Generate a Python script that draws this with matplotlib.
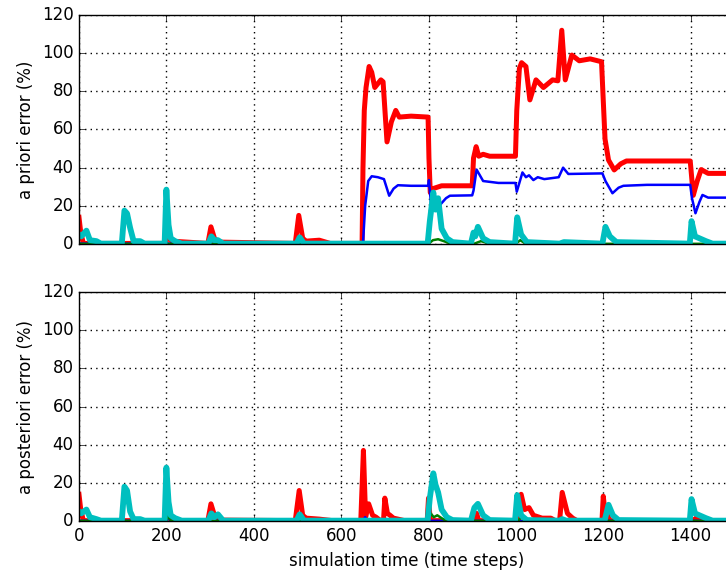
import matplotlib
matplotlib.use('Agg')
import matplotlib.pyplot as plt

plt.style.use('classic')
plt.rcParams['font.family'] = ['DejaVu Sans']
plt.rcParams['font.size'] = 12

# a priori error, one series per estimated parameter (time step, percent)
prior_red_t = [0, 4, 10, 198, 205, 212, 295, 302, 310, 320, 495, 503, 512, 520, 550, 575, 590,
               648, 650, 653, 657, 664, 670, 677, 691, 696, 705, 715, 725, 733, 760, 799,
               801, 804, 810, 830, 900, 903, 909, 915, 925, 940, 999,
               1002, 1008, 1013, 1023, 1032, 1046, 1063, 1084, 1096, 1105, 1113, 1128, 1145, 1170, 1196,
               1200, 1204, 1212, 1225, 1240, 1253, 1300, 1399, 1406, 1415, 1424, 1440, 1500]
prior_red_v = [14, 6, 0.3, 0.3, 5, 1.5, 0.3, 9, 3, 1, 0.3, 15, 3, 1.5, 2, 0.3, 0.3,
               0.3, 40, 70, 82, 93, 90, 82, 86, 85, 53.5, 64, 70, 66.5, 67, 66.5,
               45, 27, 29, 30.5, 30.5, 45, 51, 46, 47, 46, 46,
               70, 92, 95, 93, 75.5, 86, 82, 86, 85.5, 112, 86, 99, 96, 97, 95.5,
               75, 55, 44, 38.8, 42, 43.5, 43.5, 43.5, 25.5, 33, 39, 37, 37]

prior_blue_t = [0, 650, 655, 662, 670, 684, 698, 710, 720, 730, 760, 799, 801, 806, 826, 840, 849, 900,
                903, 910, 925, 960, 999, 1002, 1015, 1023, 1030, 1040, 1050, 1065, 1098, 1108, 1120, 1198,
                1205, 1221, 1235, 1246, 1300, 1399, 1403, 1411, 1420, 1427, 1440, 1500]
prior_blue_v = [0.2, 0.2, 20, 33, 35.5, 35, 34, 25.3, 29, 30.8, 30.5, 30.5, 33.5, 20, 20.4, 24, 25.3, 25.5,
                28, 39, 33, 32, 32, 27.4, 37.5, 35, 36, 33.5, 35, 34, 35, 40, 36.7, 37,
                33, 26.6, 29.5, 30.5, 31, 31, 24, 16.1, 22, 25.7, 24.3, 24.3]

prior_green_t = [0, 690, 700, 710, 800, 810, 822, 835, 850, 905, 920, 935, 950, 965, 1000, 1010, 1020,
                 1040, 1055, 1500]
prior_green_v = [0.1, 0.1, 1, 0.1, 0.1, 2, 2.5, 1.5, 0.2, 0.2, 1.5, 0.5, 1, 0.2, 0.2, 2, 0.5,
                 1, 0.1, 0.1]

prior_cyan_t = [0, 5, 17, 25, 40, 50, 98, 104, 110, 117, 125, 140, 150, 196, 200, 205, 210, 220,
                235, 296, 303, 310, 318, 330, 498, 505, 515, 798, 803, 811, 816, 822, 830, 842, 855,
                897, 903, 907, 913, 925, 940, 998, 1003, 1012, 1025, 1100, 1110, 1198, 1205, 1215,
                1230, 1398, 1402, 1410, 1420, 1435, 1450, 1500]
prior_cyan_v = [5, 4, 7, 2, 1.5, 0.2, 0.2, 17.5, 16, 8.5, 1.5, 1.5, 0.2, 0.2, 28.5, 10, 3, 1.5,
                0.2, 0.2, 4, 2, 2, 0.2, 0.2, 3.5, 0.2, 0.2, 12, 27, 18, 24, 8, 3, 1,
                0.2, 6, 4, 9, 3, 1, 0.2, 14, 5, 1, 0.2, 1, 0.2, 9, 4,
                1, 0.2, 12, 4, 3, 1.5, 0.2, 0.2]

# a posteriori error
post_red_t = [0, 4, 10, 198, 205, 212, 295, 302, 310, 320, 495, 504, 512, 520, 550, 580, 645,
              651, 656, 663, 672, 680, 690, 697, 700, 706, 712, 720, 730, 745, 797, 800, 804,
              905, 910, 915, 1005, 1012, 1020, 1030, 1040, 1060, 1080, 1090, 1100, 1106, 1118,
              1130, 1140, 1197, 1200, 1206, 1210, 1215, 1405, 1415, 1430, 1500]
post_red_v = [14, 6, 0.2, 0.2, 3, 0.2, 0.2, 9, 3, 0.5, 0.2, 16, 3, 1.5, 1, 0.2, 0.2,
              37, 2, 9, 3, 2, 0.2, 0.2, 12, 4, 3, 1.5, 1, 0.2, 0.2, 12, 0.2,
              0.2, 4, 0.2, 0.2, 14, 6, 7, 3, 1.5, 1.5, 0.2, 0.2, 15, 4,
              1.5, 0.2, 0.2, 13, 0.2, 3, 0.2, 0.2, 2, 0.2, 0.2]

post_blue_t = [0, 200, 204, 210, 650, 655, 660, 1500]
post_blue_v = [0.1, 0.1, 1.5, 0.1, 0.1, 2, 0.1, 0.1]

post_green_t = [0, 200, 204, 210, 798, 805, 812, 820, 830, 840, 1005, 1012, 1020, 1500]
post_green_v = [0.1, 0.1, 3, 0.1, 0.1, 4, 2, 3, 1.5, 0.1, 0.1, 2, 0.1, 0.1]

post_cyan_t = [0, 5, 17, 25, 40, 50, 98, 104, 110, 117, 125, 140, 150, 196, 200, 205, 210, 220,
               235, 296, 303, 310, 318, 330, 498, 505, 515, 798, 803, 811, 816, 822, 830, 842, 855,
               897, 905, 913, 925, 940, 998, 1003, 1012, 1025, 1100, 1106, 1115, 1203, 1212, 1222,
               1235, 1398, 1402, 1410, 1420, 1435, 1450, 1500]
post_cyan_v = [5, 4, 6, 2, 1, 0.2, 0.2, 18, 16, 5, 1, 1, 0.2, 0.2, 28, 10, 3, 1.5,
               0.2, 0.2, 4, 2, 3.5, 0.2, 0.2, 3.5, 0.2, 0.2, 12, 25, 19, 15, 6, 2, 0.5,
               0.2, 7, 9, 3, 0.5, 0.2, 13.6, 3, 0.5, 0.2, 1, 0.2, 0.2, 8.5, 3,
               0.5, 0.2, 11.5, 4, 3, 1.5, 0.2, 0.2]

fig = plt.figure(figsize=(7.26, 5.74), dpi=100)
fig.patch.set_facecolor('white')
ax1 = fig.add_axes([0.1088, 0.5749, 0.9027, 0.3990])
ax2 = fig.add_axes([0.1088, 0.0923, 0.9027, 0.3990])

ax1.plot(prior_red_t, prior_red_v, color='r', lw=3.6)
ax1.plot(prior_blue_t, prior_blue_v, color='b', lw=1.8)
ax1.plot(prior_green_t, prior_green_v, color='g', lw=1.8)
ax1.plot(prior_cyan_t, prior_cyan_v, color='c', lw=4.2)

ax2.plot(post_red_t, post_red_v, color='r', lw=3.6)
ax2.plot(post_blue_t, post_blue_v, color='b', lw=1.8)
ax2.plot(post_green_t, post_green_v, color='g', lw=1.8)
ax2.plot(post_cyan_t, post_cyan_v, color='c', lw=4.2)

for ax in (ax1, ax2):
    ax.set_xlim(0, 1500)
    ax.set_ylim(0, 120)
    ax.set_xticks(range(0, 1600, 200))
    ax.set_yticks(range(0, 140, 20))
    ax.grid(True, color='k', linestyle=(0, (1, 3)), linewidth=1.0)
    ax.set_axisbelow(True)

ax1.set_xticklabels([])
ax1.set_ylabel('a priori error (%)')
ax2.set_ylabel('a posteriori error (%)')
ax2.set_xlabel('simulation time (time steps)')

plt.savefig('out.png', dpi=100, facecolor='white')
